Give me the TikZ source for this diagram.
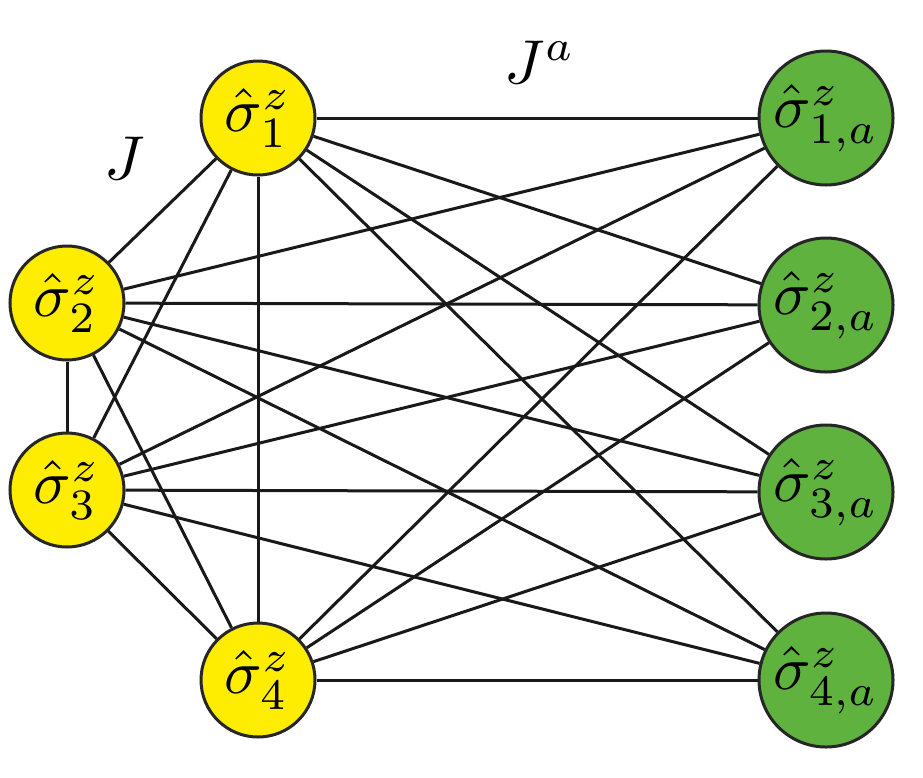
\documentclass[tikz,border=0pt]{standalone}
\begin{document}
\begin{tikzpicture}[x=1pt,y=-1pt,
  yel/.style={circle,draw=black!85,line width=3pt,fill=yellow!95!orange,minimum size=114pt,inner sep=0pt},
  grn/.style={circle,draw=black!85,line width=3pt,fill={rgb,255:red,95;green,178;blue,62},minimum size=134pt,inner sep=0pt},
  edge/.style={line width=3pt,draw=black!90}]
\newcommand{\MyBigLbl}[1]{\scalebox{6.2}{$#1$}}
\useasboundingbox (0,0) rectangle (923,777);
\node[yel] (y1) at (258,118) {\MyBigLbl{\hat\sigma^z_1}};
\node[yel] (y2) at (67,303) {\MyBigLbl{\hat\sigma^z_2}};
\node[yel] (y3) at (67,490) {\MyBigLbl{\hat\sigma^z_3}};
\node[yel] (y4) at (258,680) {\MyBigLbl{\hat\sigma^z_4}};
\node[grn] (g1) at (826,118) {\MyBigLbl{\hat\sigma^z_{1,a}}};
\node[grn] (g2) at (826,305) {\MyBigLbl{\hat\sigma^z_{2,a}}};
\node[grn] (g3) at (826,492) {\MyBigLbl{\hat\sigma^z_{3,a}}};
\node[grn] (g4) at (826,680) {\MyBigLbl{\hat\sigma^z_{4,a}}};
\node (J) at (125,158) {\MyBigLbl{J}};
\node (Ja) at (540,62) {\MyBigLbl{J^a}};
\foreach \a/\b in {y1/y2,y1/y3,y1/y4,y2/y3,y2/y4,y3/y4}
  \draw[edge] (\a) -- (\b);
\foreach \a in {y1,y2,y3,y4}
  \foreach \b in {g1,g2,g3,g4}
    \draw[edge] (\a) -- (\b);
\end{tikzpicture}
\end{document}
